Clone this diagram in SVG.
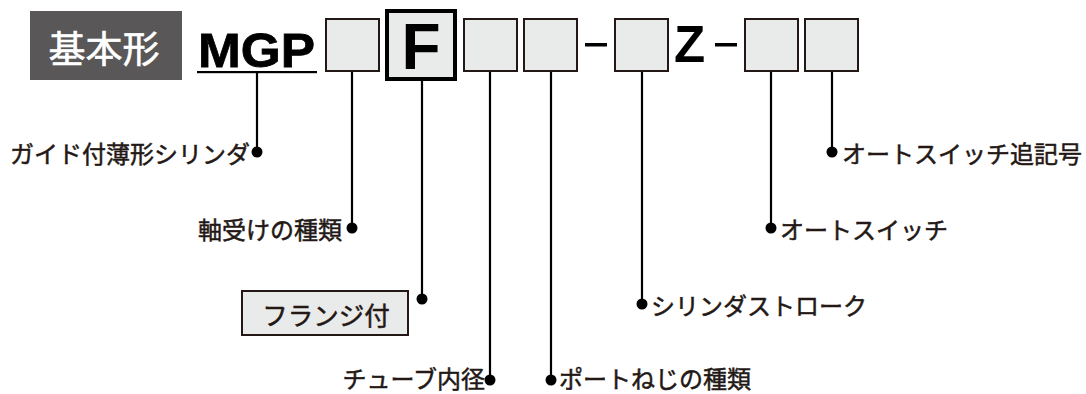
<svg xmlns="http://www.w3.org/2000/svg" width="1086" height="394" viewBox="0 0 1086 394">
<style>
.box{fill:#e9eaea;stroke:#231815;stroke-width:2}
.lbl{font-family:"Noto Sans CJK JP","Noto Sans",sans-serif;font-size:24px;font-weight:normal;fill:#231815;stroke:#231815;stroke-width:0.5;dominant-baseline:central}
.lat{font-family:"Liberation Sans",Arial,sans-serif;font-weight:bold;fill:#000}
.ln{stroke:#000;stroke-width:2.2;fill:none}
.dot{fill:#000}
</style>
<rect width="1086" height="394" fill="#fff"/>
<g id="title">
<rect x="30" y="11" width="152" height="69" fill="#595757"/>
<text x="104" y="47" text-anchor="middle" style="font-family:'Noto Sans CJK JP',sans-serif;font-size:37px;font-weight:normal;fill:#fff;stroke:#fff;stroke-width:0.6;dominant-baseline:central">基本形</text>
</g>
<g id="code">
<text class="lat" x="198" y="67" font-size="49" textLength="117" lengthAdjust="spacingAndGlyphs" stroke="#000" stroke-width="0.8">MGP</text>
<rect x="197" y="71" width="120" height="2.2" fill="#000"/>
<rect id="box1" class="box" x="326" y="19" width="53" height="52"/>
<g id="boxF"><rect x="387" y="11" width="68" height="68" fill="#e9eaea" stroke="#000" stroke-width="4"/>
<text class="lat" x="401.5" y="69" font-size="64">F</text></g>
<rect id="box3" class="box" x="464" y="19" width="53" height="52"/>
<rect id="box4" class="box" x="524" y="19" width="53" height="52"/>
<rect x="585" y="43" width="22" height="3.5" fill="#000"/>
<rect id="box5" class="box" x="615" y="19" width="53" height="52"/>
<text class="lat" x="674" y="62" font-size="51">Z</text>
<rect x="715" y="43" width="22" height="3.5" fill="#000"/>
<rect id="box6" class="box" x="745" y="19" width="53" height="52"/>
<rect id="box7" class="box" x="805" y="19" width="53" height="52"/>
</g>
<g id="connectors">
<path class="ln" d="M257 73V152M352 72V228M422 81V299M490 72V380M551 72V380M642 72V304M771 72V228M832 72V152"/>
<circle class="dot" cx="257" cy="152" r="5.5"/>
<circle class="dot" cx="352" cy="228" r="5.5"/>
<circle class="dot" cx="422" cy="299" r="5.5"/>
<circle class="dot" cx="490" cy="380" r="5.5"/>
<circle class="dot" cx="551" cy="380" r="5.5"/>
<circle class="dot" cx="642" cy="304" r="5.5"/>
<circle class="dot" cx="771" cy="228" r="5.5"/>
<circle class="dot" cx="832" cy="152" r="5.5"/>
</g>
<g id="n-series"><text class="lbl" x="250" y="152" text-anchor="end">ガイド付薄形シリンダ</text></g>
<g id="n-bearing"><text class="lbl" x="342" y="228" text-anchor="end">軸受けの種類</text></g>
<g id="n-flange"><rect class="box" x="242" y="291" width="166" height="44"/>
<text class="lbl" x="326" y="313" text-anchor="middle" style="font-size:25.5px">フランジ付</text></g>
<g id="n-bore"><text class="lbl" x="485" y="377" text-anchor="end">チューブ内径</text></g>
<g id="n-port"><text class="lbl" x="559" y="377">ポートねじの種類</text></g>
<g id="n-stroke"><text class="lbl" x="651" y="304">シリンダストローク</text></g>
<g id="n-switch"><text class="lbl" x="780" y="228">オートスイッチ</text></g>
<g id="n-suffix"><text class="lbl" x="842" y="152">オートスイッチ追記号</text></g>
</svg>
